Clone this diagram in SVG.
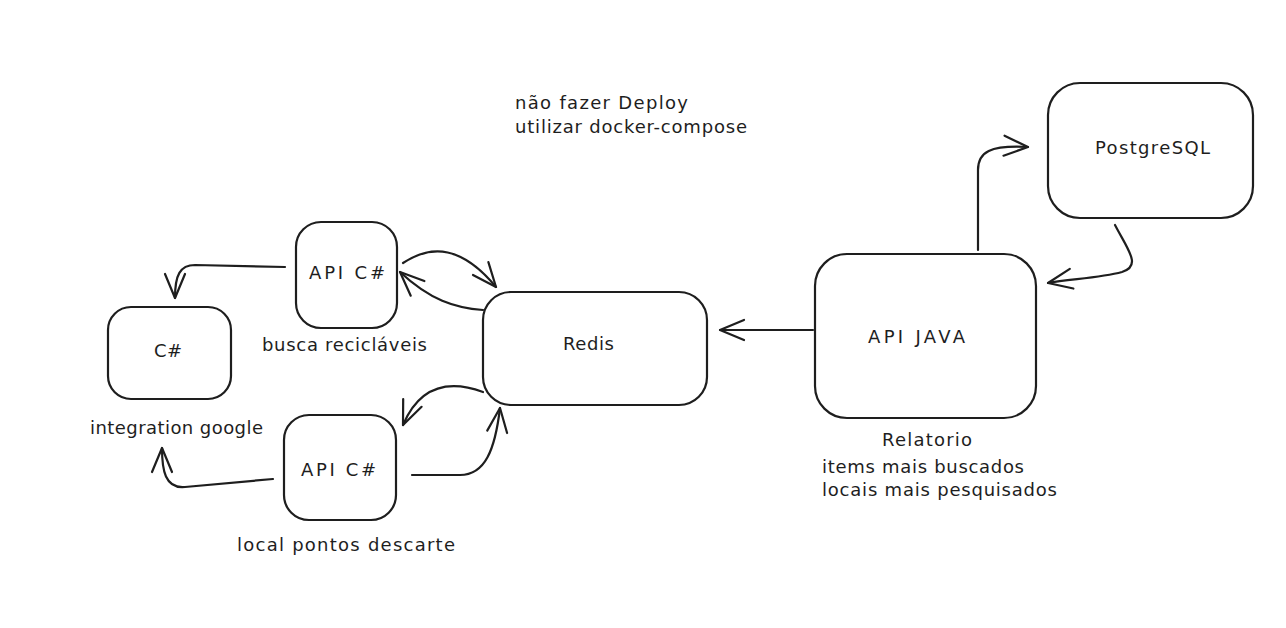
<svg xmlns="http://www.w3.org/2000/svg" width="1286" height="628" viewBox="0 0 1286 628">
<style>
.box{fill:#ffffff;stroke:#1e1e1e;stroke-width:2.2}
.c{fill:none;stroke:#1e1e1e;stroke-width:2.2;stroke-linecap:round;stroke-linejoin:round}
text{font-family:"DejaVu Sans","Liberation Sans",sans-serif;font-size:18px;fill:#1e1e1e}
</style>
<defs>
<marker id="ah" markerUnits="userSpaceOnUse" viewBox="-26 -14 30 28" refX="0" refY="0" markerWidth="30" markerHeight="28" orient="auto" overflow="visible">
<path d="M -24 -10 L 0 0 L -24 10" fill="none" stroke="#1e1e1e" stroke-width="2.2" stroke-linecap="round" stroke-linejoin="round"/>
</marker>
</defs>
<rect width="1286" height="628" fill="#ffffff"/>
<g id="connectors">
<path class="c" marker-end="url(#ah)" d="M 813 330 L 720 330"/>
<path class="c" marker-end="url(#ah)" d="M 978 250 L 978 170 C 978 152 990 145 1028 147"/>
<path class="c" marker-end="url(#ah)" d="M 1115 225 C 1128 250 1142 266 1122 272 C 1100 278 1070 279 1048 283"/>
<path class="c" marker-end="url(#ah)" d="M 285 267 L 195 265 C 180 265 175 275 175 298"/>
<path class="c" marker-end="url(#ah)" d="M 403 263 C 432 244 462 246 496 287"/>
<path class="c" marker-end="url(#ah)" d="M 483 310 C 455 308 430 300 400 272"/>
<path class="c" marker-end="url(#ah)" d="M 483 392 C 450 380 420 385 403 425"/>
<path class="c" marker-end="url(#ah)" d="M 412 475 L 460 475 C 485 475 495 450 500 408"/>
<path class="c" marker-end="url(#ah)" d="M 273 479 L 185 487 C 165 489 162 470 162 448"/>
</g>
<g id="node-csharp">
<rect class="box" x="108" y="307" width="123" height="92" rx="23"/>
<text x="154" y="357" textLength="28">C#</text>
<text x="90" y="434" textLength="173">integration google</text>
</g>
<g id="node-api-cs-top">
<rect class="box" x="296" y="222" width="101" height="106" rx="25"/>
<text x="309" y="279" textLength="76">API C#</text>
<text x="262" y="351" textLength="165">busca recicláveis</text>
</g>
<g id="node-api-cs-bottom">
<rect class="box" x="284" y="415" width="112" height="105" rx="25"/>
<text x="301" y="476" textLength="75">API C#</text>
<text x="237" y="551" textLength="218">local pontos descarte</text>
</g>
<g id="node-redis">
<rect class="box" x="483" y="292" width="224" height="113" rx="28"/>
<text x="563" y="350" textLength="51">Redis</text>
</g>
<g id="node-api-java">
<rect class="box" x="815" y="254" width="221" height="164" rx="32"/>
<text x="868" y="343" textLength="97">API JAVA</text>
<text x="882" y="446" textLength="90">Relatorio</text>
<text x="822" y="473" textLength="202">items mais buscados</text>
<text x="822" y="496" textLength="235">locais mais pesquisados</text>
</g>
<g id="node-postgres">
<rect class="box" x="1048" y="83" width="205" height="135" rx="32"/>
<text x="1095" y="154" textLength="115">PostgreSQL</text>
</g>
<g id="note">
<text x="515" y="109" textLength="173">não fazer Deploy</text>
<text x="515" y="133" textLength="232">utilizar docker-compose</text>
</g>
</svg>
